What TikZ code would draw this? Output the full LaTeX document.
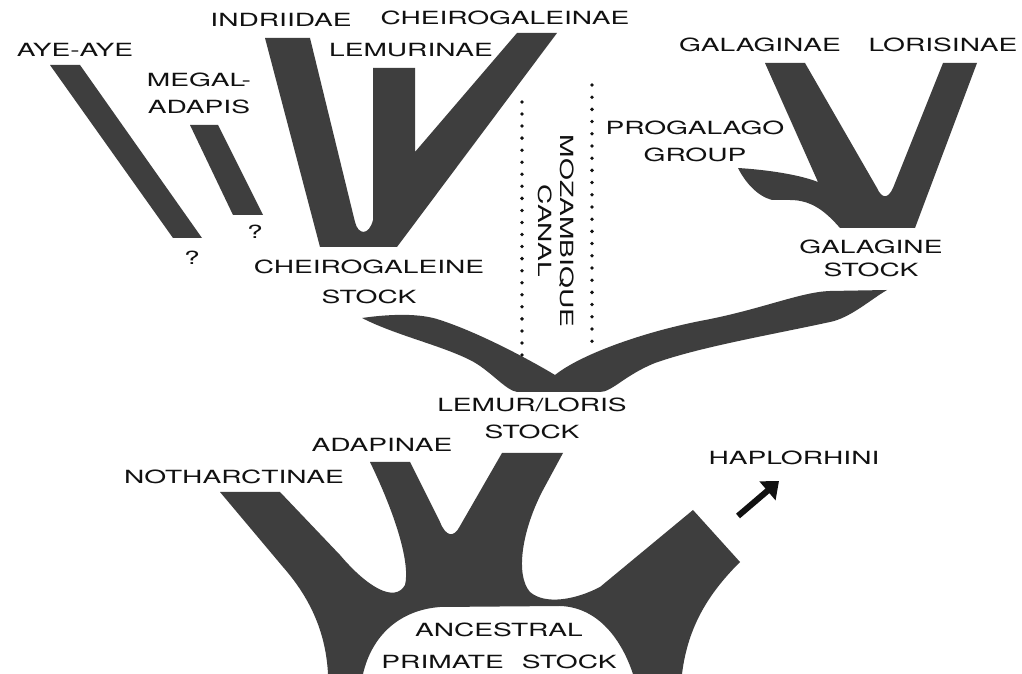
\documentclass[tikz,border=0pt]{standalone}
\usepackage{fontspec}
\setmainfont{TeX Gyre Heros}[FakeStretch=1.55]
\usepackage{tikz}
\usetikzlibrary{arrows.meta}
\definecolor{stipple}{HTML}{3E3E3E}
\definecolor{inkblack}{HTML}{111111}
\tikzset{
  branch/.style={fill=stipple, draw=none},
  lbl/.style={font=\fontsize{12.9}{19.2}\selectfont, text=inkblack, align=center, inner sep=0pt},
  canaldot/.style={fill=inkblack},
  ar/.style={-{Triangle[length=0.38cm, width=0.6cm]}, line width=4.3pt, draw=inkblack},
}

\begin{document}
\begin{tikzpicture}[x=0.025cm, y=-0.025cm]
  \fill[white] (0,0) rectangle (1022,674);
  \useasboundingbox (0,0) rectangle (1022,674);

  % upper lemur side
  \fill[branch] (50,65) -- (80,65) -- (202,238) -- (173,238) -- cycle;
  \fill[branch] (190,125) -- (218,125) -- (263,215) -- (233,215) -- cycle;
  \fill[branch] (320,247) -- (265,38) -- (310,38) -- (355,222)
    .. controls (358,235) and (369,236) .. (373,220) -- (373,68) -- (415,68)
    -- (415,152) -- (517,33) -- (557,33) -- (397,247) -- cycle;

  % galago side
  \fill[branch] (840,228) .. controls (826,212) and (812,200) .. (790,200) -- (772,200)
    .. controls (757,196) and (745,182) .. (738,168)
    .. controls (770,170) and (800,175) .. (818,182) -- (765,63) -- (805,63)
    -- (877,188) .. controls (882,199) and (888,199) .. (893,188)
    -- (943,63) -- (977,63) -- (915,228) -- cycle;

  % lemur/loris stock
  \fill[branch] (362,318) .. controls (390,314) and (420,313) .. (440,320)
    .. controls (480,333) and (530,360) .. (555,375)
    .. controls (580,355) and (640,333) .. (700,321)
    .. controls (760,310) and (800,292) .. (830,291) -- (887,290)
    .. controls (870,300) and (850,318) .. (830,322)
    .. controls (770,335) and (700,347) .. (655,363)
    .. controls (625,375) and (612,392) .. (600,392) -- (517,392)
    .. controls (505,390) and (490,370) .. (470,360)
    .. controls (440,345) and (395,335) .. (362,318) -- cycle;

  % ancestral stock
  \fill[branch] (328,674) .. controls (326,635) and (312,600) .. (283,567) -- (220,492) -- (280,492)
    -- (340,555) .. controls (368,588) and (395,603) .. (405,585)
    .. controls (410,565) and (398,520) .. (370,462) -- (410,462)
    -- (440,522) .. controls (446,537) and (454,538) .. (460,526) -- (502,453) -- (563,453)
    -- (543,490) .. controls (522,530) and (515,575) .. (530,592)
    .. controls (545,605) and (575,600) .. (600,587) -- (693,510) -- (740,562)
    .. controls (710,592) and (688,625) .. (682,674) -- (633,674)
    .. controls (620,635) and (595,607) .. (560,606) -- (440,607)
    .. controls (400,610) and (372,635) .. (363,674) -- cycle;

  \foreach \k in {0,...,21}{
    \fill[canaldot] (522,{102+\k*12.05}) circle (1.9);
    \fill[canaldot] (592,{85+\k*12.2}) circle (1.9);
  }

  \node[lbl] (ayeaye) at (75,50) {AYE-AYE};
  \node[lbl] (megaladapis) at (199,93) {MEGAL-\\ADAPIS};
  \node[lbl] (indriidae) at (281,20) {INDRIIDAE};
  \node[lbl] (cheirogaleinae) at (505,18) {CHEIROGALEINAE};
  \node[lbl] (lemurinae) at (411,50) {LEMURINAE};
  \node[lbl] (qayeaye) at (192,258) {?};
  \node[lbl] (qmegal) at (255,232) {?};
  \node[lbl] (cheirostock) at (369,282) {CHEIROGALEINE\\[2pt]STOCK};
  \node[lbl, rotate=-90] (canal) at (556,231) {MOZAMBIQUE\\[-3.5pt]CANAL};
  \node[lbl] (progalago) at (695,141) {PROGALAGO\\GROUP};
  \node[lbl] (galaginae) at (760,45) {GALAGINAE};
  \node[lbl] (lorisinae) at (943,45) {LORISINAE};
  \node[lbl] (galaginestock) at (871,258) {GALAGINE\\[-2.8pt]STOCK};
  \node[lbl] (lemurloris) at (532,418) {LEMUR/LORIS\\STOCK};
  \node[lbl] (adapinae) at (382,445) {ADAPINAE};
  \node[lbl] (notharctinae) at (234,477) {NOTHARCTINAE};
  \node[lbl] (haplorhini) at (794,458) {HAPLORHINI};
  \node[lbl] (ancestral) at (499,646) {ANCESTRAL\\[3.5pt]PRIMATE\quad STOCK};

  \coordinate (haploTail) at (738,516);
  \coordinate (haploTip) at (779,481);
  \draw[ar] (haploTail) -- (haploTip);
\end{tikzpicture}
\end{document}
